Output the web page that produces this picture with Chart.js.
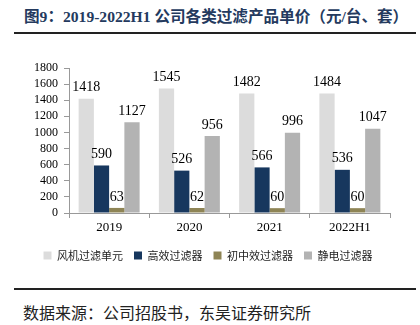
<!DOCTYPE html>
<html>
<head>
<meta charset="utf-8">
<script src="https://cdn.jsdelivr.net/npm/chart.js@4"></script>
<style>
    body { margin: 0; background: #fff; width: 420px; height: 325px; position: relative; overflow: hidden; }
    .title { position: absolute; left: 24px; top: 4px; font: bold 15.6px "Liberation Serif", "Noto Sans CJK SC"; color: #243a5e; white-space: nowrap; }
    .rule { position: absolute; left: 14px; width: 402px; height: 2px; background: #222; }
    .source { position: absolute; left: 23px; top: 300px; font: 16px "Noto Sans CJK SC"; color: #222; }
    #wrap { position: absolute; left: 0; top: 40px; width: 420px; height: 231px; }
</style>
</head>
<body>
<div class="title">图9：2019-2022H1 公司各类过滤产品单价（元/台、套）</div>
<div class="rule" style="top:32px"></div>
<div id="wrap"><canvas id="chart"></canvas></div>
<div class="rule" style="top:288px"></div>
<div class="source">数据来源：公司招股书，东吴证券研究所</div>
<script>
const years = ["2019", "2020", "2021", "2022H1"];
const fanUnit = [1418, 1545, 1482, 1484];
const highEff = [590, 526, 566, 536];
const midEff = [63, 62, 60, 60];
const electro = [1127, 956, 996, 1047];

const serif = "'Liberation Serif', 'Times New Roman', serif";

// draw the value above every bar
const valueLabels = {
    id: "valueLabels",
    afterDatasetsDraw(chart) {
        const ctx = chart.ctx;
        ctx.save();
        ctx.font = "14px " + serif;
        ctx.fillStyle = "#000";
        ctx.textAlign = "center";
        ctx.textBaseline = "bottom";
        chart.data.datasets.forEach((ds, i) => {
            chart.getDatasetMeta(i).data.forEach((bar, j) => {
                ctx.fillText(ds.data[j], bar.x, bar.y - 4);
            });
        });
        ctx.restore();
    },
};

// nudge the legend a little to the right, like the original
const legendShift = {
    id: "legendShift",
    afterLayout(chart) {
        chart.legend.left = 26;
    },
};

new Chart(document.querySelector("#chart"), {
    type: "bar",
    data: {
        labels: years,
        datasets: [
            { label: "风机过滤单元", data: fanUnit, backgroundColor: "#dcdcdc" },
            { label: "高效过滤器", data: highEff, backgroundColor: "#17375e" },
            { label: "初中效过滤器", data: midEff, backgroundColor: "#8e8455" },
            { label: "静电过滤器", data: electro, backgroundColor: "#b3b3b3" },
        ],
    },
    options: {
        responsive: true,
        maintainAspectRatio: false,
        animation: false,
        datasets: { bar: { categoryPercentage: 0.76, barPercentage: 1.0 } },
        layout: { padding: { top: 28, right: 30, left: 0, bottom: 0 } },
        plugins: {
            tooltip: { enabled: false },
            legend: {
                position: "bottom",
                labels: {
                    boxWidth: 8,
                    boxHeight: 8,
                    padding: 11,
                    color: "#222",
                    font: { family: "'Noto Sans CJK SC'", size: 11 },
                },
            },
        },
        scales: {
            x: {
                grid: { display: true, drawOnChartArea: false, drawTicks: true, tickLength: 5, color: "#999" },
                border: { color: "#999" },
                ticks: { color: "#000", font: { family: serif, size: 13 }, padding: 2 },
                afterFit(scale) { scale.height = 26; },
            },
            y: {
                min: 0,
                max: 1800,
                grid: { display: true, drawOnChartArea: false, drawTicks: true, tickLength: 5, color: "#999" },
                border: { color: "#999" },
                ticks: {
                    stepSize: 200,
                    autoSkip: false,
                    color: "#000",
                    font: { family: serif, size: 12 },
                    padding: 6,
                    callback: (v) => String(v),
                },
                afterFit(scale) { scale.width = 69; },
            },
        },
    },
    plugins: [valueLabels, legendShift],
});
</script>
</body>
</html>
